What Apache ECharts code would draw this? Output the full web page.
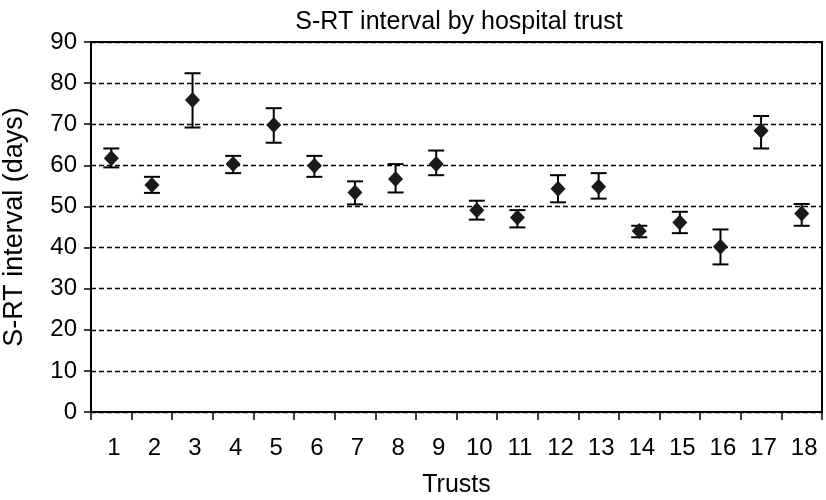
<!DOCTYPE html>
<html>
<head>
<meta charset="utf-8">
<script src="https://cdn.jsdelivr.net/npm/echarts@6/dist/echarts.min.js"></script>
<style>
  html, body { margin: 0; padding: 0; background: #fff; }
  #main { width: 826px; height: 500px; }
</style>
</head>
<body>
<div id="main"></div>
<script>
// trusts and the mean S-RT interval, with upper / lower error bar ends
var trusts = ['1', '2', '3', '4', '5', '6', '7', '8', '9', '10', '11', '12', '13', '14', '15', '16', '17', '18'];
var meanDays = [61.7, 55.2, 75.9, 60.3, 69.8, 59.9, 53.4, 56.7, 60.3, 49.1, 47.3, 54.3, 54.8, 44.0, 46.1, 40.2, 68.4, 48.3];
var upperDays = [64.1, 57.2, 82.4, 62.3, 73.9, 62.3, 56.1, 60.3, 63.6, 51.4, 49.1, 57.6, 58.1, 45.3, 48.7, 44.4, 72.0, 50.6];
var lowerDays = [59.5, 53.3, 69.2, 58.1, 65.5, 57.2, 50.5, 53.4, 57.6, 46.8, 44.9, 51.0, 51.9, 42.5, 43.5, 35.9, 64.1, 45.3];
var yTicks = [0, 10, 20, 30, 40, 50, 60, 70, 80, 90];

var chart = echarts.init(document.getElementById('main'));

var errData = trusts.map(function (t, i) {
  return [i, lowerDays[i], upperDays[i]];
});

var font = 'Liberation Sans, Arial, sans-serif';

var option = {
  animation: false,
  title: {
    text: 'S-RT interval by hospital trust',
    left: 454,
    top: 5,
    textAlign: 'center',
    textStyle: { fontFamily: font, fontSize: 25, fontWeight: 'normal', color: '#000' }
  },
  grid: {
    left: 91,
    right: 4,
    top: 42,
    bottom: 88,
    outerBoundsMode: 'none',
    show: true,
    borderColor: '#000',
    borderWidth: 2,
    backgroundColor: 'transparent'
  },
  xAxis: {
    type: 'category',
    data: trusts,
    boundaryGap: true,
    name: 'Trusts',
    nameLocation: 'middle',
    nameGap: 61,
    nameTextStyle: { fontFamily: font, fontSize: 25, color: '#000' },
    axisLine: { lineStyle: { color: '#000', width: 2 } },
    axisTick: { show: true, length: 8, lineStyle: { color: '#000', width: 1.5 } },
    axisLabel: { fontFamily: font, fontSize: 24, color: '#000', margin: 24, interval: 0, padding: [0, 0, 0, 5] }
  },
  yAxis: {
    type: 'value',
    min: 0,
    max: 90,
    interval: 10,
    name: 'S-RT interval (days)',
    nameLocation: 'middle',
    nameGap: 63,
    nameRotate: 90,
    nameTextStyle: { fontFamily: font, fontSize: 27, color: '#000' },
    axisLine: { show: true, lineStyle: { color: '#000', width: 2 } },
    axisTick: { show: true, length: 7, lineStyle: { color: '#000', width: 1.5 } },
    axisLabel: {
      fontFamily: font, fontSize: 24, color: '#000', margin: 14,
      formatter: function (v) { return yTicks.indexOf(v) >= 0 ? String(v) : ''; }
    },
    splitLine: {
      show: true,
      lineStyle: { color: '#000', width: 1.4, type: [5, 3] }
    }
  },
  series: [
    {
      type: 'custom',
      name: 'error',
      z: 2,
      data: errData,
      renderItem: function (params, api) {
        var x = api.value(0);
        var lo = api.coord([x, api.value(1)]);
        var hi = api.coord([x, api.value(2)]);
        var half = 8;
        var st = { stroke: '#000', lineWidth: 2 };
        return {
          type: 'group',
          children: [
            { type: 'line', shape: { x1: hi[0], y1: hi[1], x2: lo[0], y2: lo[1] }, style: st },
            { type: 'line', shape: { x1: hi[0] - half, y1: hi[1], x2: hi[0] + half, y2: hi[1] }, style: st },
            { type: 'line', shape: { x1: lo[0] - half, y1: lo[1], x2: lo[0] + half, y2: lo[1] }, style: st }
          ]
        };
      }
    },
    {
      type: 'scatter',
      name: 'mean',
      z: 3,
      data: meanDays,
      symbol: 'diamond',
      symbolSize: [15, 16],
      itemStyle: { color: '#1a1a1a', opacity: 1 }
    }
  ]
};

chart.setOption(option);
</script>
</body>
</html>
